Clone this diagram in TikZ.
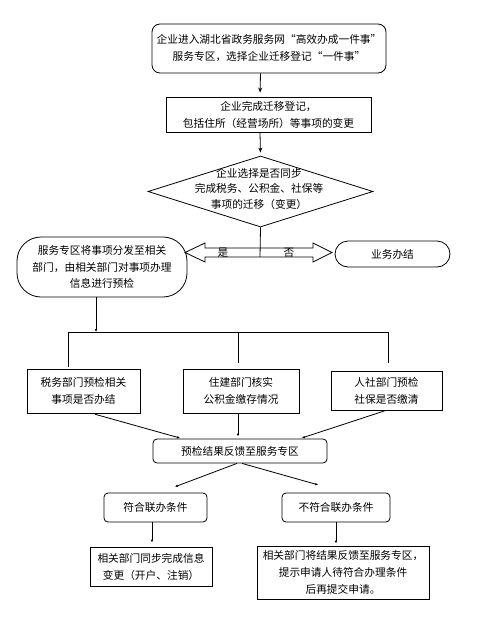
\documentclass[tikz,border=0pt]{standalone}
\usepackage{fontspec}
\setmainfont{Noto Sans CJK SC}
\usetikzlibrary{shapes.geometric,arrows.meta,calc}
\begin{document}
\begin{tikzpicture}[x=1pt,y=-1pt,
  base/.style={draw=black, line width=0.8pt, inner sep=0pt, align=center,
    font=\fontsize{10.7}{17}\selectfont},
  rbox/.style={base, rectangle, rounded corners=#1},
  sbox/.style={base, rectangle},
  txt/.style={inner sep=0pt, align=center, font=\fontsize{10.7}{17}\selectfont},
  arr/.style={-{Stealth[length=5pt,width=4pt]}, line width=0.8pt},
  sarr/.style={-{Latex[length=3pt,width=2.6pt]}, line width=0.8pt},
  ln/.style={line width=0.8pt}
]
\useasboundingbox (0,0) rectangle (480,618);

% top boxes
\node[rbox=8pt, minimum width=234pt, minimum height=49pt] (n1) at (269,48.5)
  {企业进入湖北省政务服务网“高效办成一件事”\\服务专区，选择企业迁移登记“一件事”};
\node[sbox, minimum width=205pt, minimum height=35pt] (n2) at (268.5,114.5)
  {企业完成迁移登记，\\包括住所（经营场所）等事项的变更};

% decision
\node[base, diamond, minimum width=225pt, minimum height=71pt] (dia) at (260.5,191.5) {};
\node[txt, font=\fontsize{10.7}{15.5}\selectfont] (diat) at (259,188.5)
  {企业选择是否同步\\完成税务、公积金、社保等\\事项的迁移（变更）};

% branch boxes
\node[rbox=24pt, minimum width=170pt, minimum height=60pt, font=\fontsize{10.7}{16.5}\selectfont] (L) at (102,267)
  {服务专区将事项分发至相关\\部门，由相关部门对事项办理\\信息进行预检};
\node[rbox=13pt, minimum width=115pt, minimum height=26pt] (R) at (392.5,254) {业务办结};

% hollow double arrow
\coordinate (hc) at (260,257);
\draw[ln] (260,248) -- (205,248) -- (205,243) -- (185,252.5) -- (205,262) -- (205,257)
  -- (313,257) -- (313,262) -- (332,252.5) -- (313,243) -- (313,248) -- cycle;
\draw[ln] (dia.south) -- (hc);
\node[txt] (yes) at (223,253) {是};
\node[txt] (no) at (289,253) {否};

% department boxes
\node[sbox, minimum width=113pt, minimum height=44pt] (A) at (83.5,391)
  {税务部门预检相关\\事项是否办结};
\node[sbox, minimum width=116pt, minimum height=44pt] (B) at (241,391)
  {住建部门核实\\公积金缴存情况};
\node[sbox, minimum width=111pt, minimum height=39pt] (C) at (386.5,390.5)
  {人社部门预检\\社保是否缴清};

\coordinate (busL) at (68,332);
\coordinate (busM) at (96,332);
\coordinate (busB) at (238,332);
\coordinate (busR) at (388,332);
\draw[sarr] ([xshift=-6pt]L.south) -- (busM);
\draw[ln] (busL) -- (busR);
\draw[ln, shorten >=2pt] (busL) -- ([xshift=-15.5pt]A.north);
\draw[ln, shorten >=6pt] (busB) -- ([xshift=-3pt]B.north);
\draw[ln, shorten >=8pt] (busR) -- ([xshift=1.5pt]C.north);

% feedback box
\node[rbox=4pt, minimum width=174pt, minimum height=24pt] (D) at (240,451)
  {预检结果反馈至服务专区};
\draw[sarr, shorten <=3pt, shorten >=2pt] ([xshift=8.5pt]A.south) -- ([xshift=-58pt]D.north);
\draw[sarr, shorten >=2pt] ([xshift=-3pt]B.south) -- ([xshift=-2pt]D.north);
\draw[sarr, shorten <=1pt, shorten >=2pt] ([xshift=-0.5pt]C.south) -- ([xshift=60pt]D.north);

% condition boxes
\node[rbox=4pt, minimum width=103pt, minimum height=29pt] (E) at (155.5,507.5) {符合联办条件};
\node[rbox=4pt, minimum width=108pt, minimum height=29pt] (F) at (336,507.5) {不符合联办条件};
\draw[sarr, shorten >=16.5pt] ([xshift=-3pt]D.south) -- ([xshift=4pt]E.north);
\draw[sarr, shorten >=28.5pt] ([xshift=2pt]D.south) -- ([xshift=9.6pt]F.north);

% result boxes
\node[sbox, minimum width=122pt, minimum height=39pt] (G) at (151,566.5)
  {相关部门同步完成信息\\变更（开户、注销）};
\node[sbox, minimum width=172pt, minimum height=53pt] (H) at (343,572.5)
  {相关部门将结果反馈至服务专区，\\提示申请人待符合办理条件\\后再提交申请。};
\draw[sarr, shorten >=4pt] ([xshift=-3.5pt]E.south) -- ([xshift=1pt]G.north);
\draw[sarr, shorten >=2pt] (F.south) -- ([xshift=-7pt]H.north);

% top arrows
\draw[arr, shorten >=4pt] ([xshift=-8.5pt]n1.south) -- ([xshift=-8.5pt]n2.north);
\draw[arr, shorten >=3pt] ([xshift=-8.5pt]n2.south) -- (dia.north);
\end{tikzpicture}
\end{document}
